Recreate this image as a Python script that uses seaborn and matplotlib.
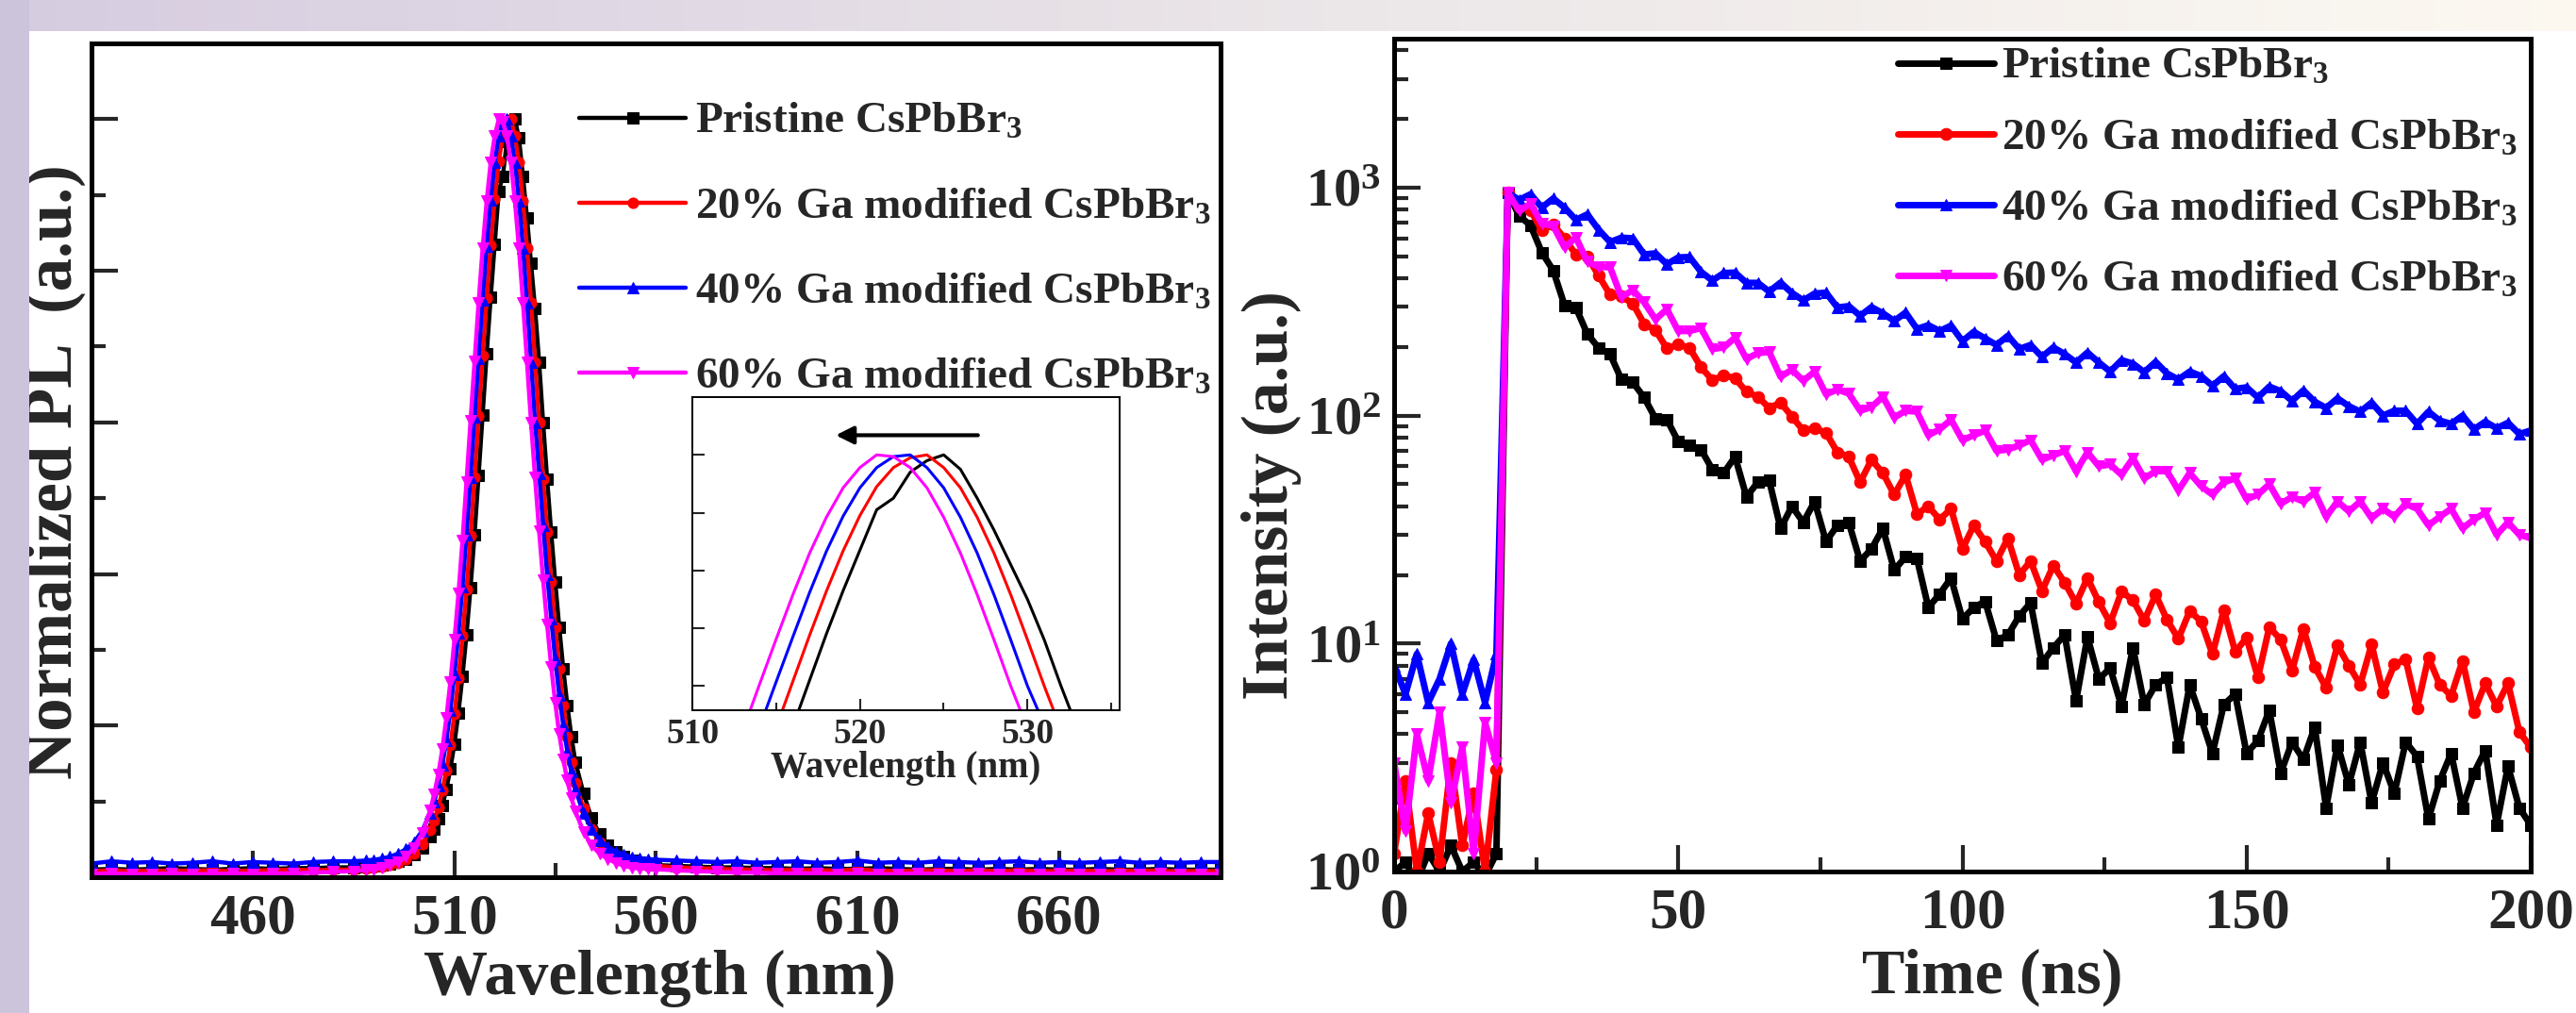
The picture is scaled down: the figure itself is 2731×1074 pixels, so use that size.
import numpy as np
import matplotlib
matplotlib.use('Agg')
import matplotlib.pyplot as plt
from matplotlib.patches import Rectangle
from matplotlib.ticker import FixedLocator, FixedFormatter, LogLocator, NullFormatter
import seaborn as sns

# ---------------- data: normalized PL spectra ----------------
wavelength = (list(range(420, 490, 5)) + list(range(488, 505, 2)) + list(range(505, 541))
              + list(range(542, 561, 2)) + list(range(565, 701, 5)))

pl_pristine = [0.010, 0.011, 0.010, 0.011, 0.012, 0.011, 0.010, 0.011, 0.012, 0.011, 0.012, 0.012, 0.013, 0.013,
               0.014, 0.015, 0.016, 0.018, 0.021, 0.024, 0.030, 0.038, 0.053,
               0.064, 0.077, 0.094, 0.116, 0.143, 0.176, 0.217, 0.265, 0.320, 0.382, 0.452, 0.530, 0.610, 0.690,
               0.765, 0.835, 0.905, 0.925, 0.970, 0.990, 1.000, 0.975, 0.925, 0.870, 0.810, 0.750, 0.680, 0.600,
               0.525, 0.455, 0.390, 0.330, 0.275, 0.227, 0.186, 0.152,
               0.111, 0.078, 0.057, 0.042, 0.033, 0.027, 0.023, 0.020, 0.018, 0.016,
               0.015, 0.014, 0.013, 0.013, 0.012, 0.012, 0.011, 0.012, 0.011, 0.011, 0.012, 0.011, 0.010, 0.011,
               0.011, 0.010, 0.011, 0.010, 0.011, 0.010, 0.010, 0.011, 0.010, 0.010, 0.011, 0.010, 0.010, 0.010]

pl_ga20 = [0.008, 0.009, 0.008, 0.009, 0.008, 0.009, 0.009, 0.008, 0.009, 0.009, 0.010, 0.009, 0.010, 0.010,
           0.011, 0.012, 0.014, 0.016, 0.019, 0.024, 0.031, 0.043, 0.062,
           0.075, 0.092, 0.114, 0.141, 0.174, 0.215, 0.263, 0.318, 0.380, 0.450, 0.528, 0.608, 0.688, 0.764,
           0.834, 0.895, 0.945, 0.978, 0.995, 1.000, 0.978, 0.943, 0.892, 0.830, 0.758, 0.680, 0.600, 0.525,
           0.455, 0.390, 0.330, 0.275, 0.227, 0.186, 0.152, 0.124,
           0.091, 0.064, 0.046, 0.035, 0.028, 0.023, 0.019, 0.0165, 0.0155, 0.015,
           0.013, 0.012, 0.011, 0.010, 0.010, 0.009, 0.010, 0.009, 0.009, 0.010, 0.009, 0.008, 0.009, 0.009,
           0.008, 0.009, 0.008, 0.009, 0.008, 0.008, 0.009, 0.008, 0.008, 0.009, 0.008, 0.008, 0.008, 0.008]

pl_ga40 = [0.018, 0.021, 0.019, 0.020, 0.018, 0.019, 0.021, 0.018, 0.020, 0.019, 0.018, 0.020, 0.021, 0.021,
           0.022, 0.023, 0.0245, 0.027, 0.031, 0.037, 0.046, 0.061, 0.085,
           0.099, 0.121, 0.148, 0.180, 0.220, 0.268, 0.322, 0.383, 0.452, 0.528, 0.607, 0.685, 0.762, 0.833,
           0.894, 0.943, 0.978, 0.997, 1.000, 0.978, 0.943, 0.892, 0.830, 0.758, 0.680, 0.600, 0.533, 0.464,
           0.400, 0.341, 0.287, 0.240, 0.200, 0.166, 0.139, 0.116,
           0.084, 0.064, 0.049, 0.040, 0.034, 0.030, 0.0265, 0.025, 0.024, 0.023,
           0.022, 0.021, 0.020, 0.021, 0.019, 0.020, 0.021, 0.019, 0.020, 0.022, 0.019, 0.020, 0.019, 0.021,
           0.020, 0.019, 0.020, 0.021, 0.019, 0.020, 0.019, 0.020, 0.021, 0.019, 0.020, 0.019, 0.020, 0.020]

pl_ga60 = [0.004, 0.005, 0.004, 0.004, 0.005, 0.004, 0.004, 0.005, 0.004, 0.005, 0.005, 0.006, 0.007, 0.008,
           0.0095, 0.0105, 0.0125, 0.016, 0.020, 0.027, 0.039, 0.058, 0.088,
           0.110, 0.136, 0.169, 0.210, 0.258, 0.313, 0.374, 0.444, 0.522, 0.602, 0.681, 0.758, 0.830, 0.892,
           0.943, 0.978, 1.000, 0.997, 0.978, 0.943, 0.892, 0.830, 0.758, 0.680, 0.600, 0.527, 0.457, 0.392,
           0.333, 0.278, 0.230, 0.189, 0.155, 0.128, 0.105, 0.087,
           0.060, 0.042, 0.031, 0.024, 0.019, 0.015, 0.0125, 0.0115, 0.011, 0.0105,
           0.009, 0.008, 0.007, 0.006, 0.006, 0.005, 0.005, 0.005, 0.004, 0.005, 0.004, 0.004, 0.005, 0.004,
           0.004, 0.005, 0.004, 0.004, 0.004, 0.005, 0.004, 0.004, 0.004, 0.004, 0.005, 0.004, 0.004, 0.004]

# ---------------- data: TRPL decays (counts, 2 ns steps) ----------------
time_ns = list(range(0, 201, 2))

tr_pristine = [1.0, 1.1, 0.9, 1.2, 1.0, 1.3, 1.0, 1.1, 0.95, 1.2,
               950, 752, 683, 519, 433, 304, 297, 228, 198, 186,
               144, 140, 120, 97, 96, 77, 74, 71, 58, 56,
               66, 44, 51, 52, 32, 40, 34, 42, 28, 33,
               34, 23, 26, 32, 21, 24, 23.6, 14.4, 16.5, 19.4,
               12.8, 14.4, 15.3, 10.3, 10.9, 13.2, 15.1, 8.2, 9.6, 10.9,
               5.6, 10.7, 7.0, 7.8, 5.3, 9.6, 5.4, 6.6, 7.1, 3.5,
               6.6, 4.7, 3.3, 5.4, 6.0, 3.3, 3.75, 5.1, 2.7, 3.7,
               3.1, 4.3, 1.9, 3.6, 2.4, 3.7, 2.0, 3.0, 2.2, 3.7,
               3.2, 1.7, 2.5, 3.3, 1.9, 2.7, 3.4, 1.6, 2.9, 1.9, 1.6]

tr_ga20 = [1.2, 2.5, 1.0, 1.8, 1.1, 3.0, 1.3, 2.2, 1.0, 2.8,
           950, 825, 798, 649, 691, 597, 508, 498, 411, 339,
           333, 310, 252, 237, 197, 205, 198, 163, 143, 150,
           146, 127, 121, 108, 114, 99, 86, 88, 84, 69,
           66, 51, 64, 56, 45, 55, 37, 40, 35, 39,
           26, 33, 28, 23, 29, 20, 23, 17, 22, 18.5,
           15, 19.4, 15.2, 12.3, 16.9, 15.5, 12.6, 16.4, 12.7, 10.5,
           13.9, 12.5, 9.0, 14.0, 9.2, 10.6, 7.1, 11.8, 10.4, 7.6,
           11.6, 7.9, 6.4, 9.8, 8.0, 6.6, 9.9, 6.1, 8.1, 8.5,
           5.2, 8.7, 6.6, 5.9, 8.4, 5.0, 6.7, 5.3, 6.7, 4.1, 3.5]

tr_ga40 = [8, 6, 9, 5.5, 7, 10, 6, 8.5, 5.5, 9,
           950, 883, 935, 818, 896, 816, 722, 763, 653, 577,
           603, 599, 509, 515, 461, 494, 496, 427, 391, 422,
           424, 382, 382, 350, 383, 345, 320, 343, 346, 298,
           302, 274, 299, 281, 260, 283, 240, 249, 235, 248,
           212, 233, 218, 204, 224, 196, 204, 181, 199, 186,
           171, 189, 171, 156, 175, 169, 155, 172, 153, 144,
           156, 149, 135, 149, 131, 133, 120, 134, 128, 116,
           129, 115, 108, 119, 110, 104, 114, 100, 105, 105,
           92, 104, 95, 92, 100, 87, 94, 88, 93, 83, 86]

tr_ga60 = [3, 1.5, 4, 2.5, 5, 2, 3.5, 1.2, 4.5, 3,
           950, 792, 849, 694, 679, 546, 605, 473, 449, 447,
           331, 355, 314, 264, 293, 235, 235, 242, 196, 199,
           220, 177, 188, 190, 148, 159, 142, 156, 124, 130,
           125, 105, 109, 121, 98, 105, 104, 82, 87, 96,
           78, 82, 86, 70, 71, 74, 78, 64, 67, 70,
           57, 69, 60, 61, 55, 65, 53, 57, 57, 47,
           56, 49, 45, 51, 53, 43, 45, 50, 41, 44,
           42, 46, 36, 42, 38, 42, 35.5, 39, 36, 41,
           39, 33, 36, 39, 32, 35, 37.5, 30, 34, 30, 29]

labels = ['Pristine CsPbBr$_3$', '20% Ga modified CsPbBr$_3$',
          '40% Ga modified CsPbBr$_3$', '60% Ga modified CsPbBr$_3$']
colors = ['#000000', '#ff0000', '#0000ff', '#ff00ff']
markers = ['s', 'o', '^', 'v']
pl_series = [pl_pristine, pl_ga20, pl_ga40, pl_ga60]
tr_series = [tr_pristine, tr_ga20, tr_ga40, tr_ga60]

# ---------------- style ----------------
sns.set_style('white')
plt.rcParams['font.family'] = ['Liberation Serif', 'DejaVu Serif']
plt.rcParams['font.weight'] = 'bold'
plt.rcParams['axes.labelweight'] = 'bold'
plt.rcParams['mathtext.fontset'] = 'custom'
plt.rcParams['mathtext.rm'] = 'Liberation Serif:bold'
plt.rcParams['mathtext.bf'] = 'Liberation Serif:bold'
plt.rcParams['mathtext.it'] = 'Liberation Serif:bold'
plt.rcParams['axes.edgecolor'] = 'black'

W, H = 2731, 1074
fig = plt.figure(figsize=(W / 100, H / 100), dpi=100, facecolor='white')

# background strips of the slide
top = fig.add_axes([0, 1 - 33 / H, 1, 33 / H])
stops = np.array([[0.84, 0.80, 0.88], [0.92, 0.90, 0.91], [0.99, 0.975, 0.945]])
g = np.linspace(0, 1, 512)
grad = np.stack([np.interp(g, [0, 0.5, 1], stops[:, k]) for k in range(3)], axis=-1)
top.imshow(grad[None, :, :], aspect='auto', extent=[0, 1, 0, 1])
top.axis('off')
fig.add_artist(Rectangle((0, 0), 31 / W, 1, transform=fig.transFigure,
                         facecolor=(0.80, 0.77, 0.86), edgecolor='none'))


def style_axes(ax, lw=3.6):
    for s in ax.spines.values():
        s.set_linewidth(lw)
        s.set_color('black')
        s.set_visible(True)


# ---------------- left panel: PL ----------------
ax1 = fig.add_axes([97 / W, 1 - 930 / H, 1197 / W, 884 / H])
for y, c, m, lab in zip(pl_series, colors, markers, labels):
    sns.lineplot(x=wavelength, y=y, ax=ax1, color=c, marker=m, markersize=8,
                 markeredgecolor=c, linewidth=3.2, label=lab, estimator=None, sort=False)
ax1.set_xlim(420, 700)
ax1.set_ylim(0, 1.1)
ax1.xaxis.set_major_locator(FixedLocator([460, 510, 560, 610, 660]))
ax1.xaxis.set_minor_locator(FixedLocator([435, 485, 535, 585, 635, 685]))
ax1.yaxis.set_major_locator(FixedLocator([0.2, 0.4, 0.6, 0.8, 1.0]))
ax1.yaxis.set_minor_locator(FixedLocator([0.1, 0.3, 0.5, 0.7, 0.9]))
ax1.tick_params(which='both', direction='in', left=True, bottom=True, top=False, right=False,
                labelleft=False, labelsize=44, pad=12)
ax1.tick_params(which='major', length=20, width=3)
ax1.tick_params(which='minor', length=11, width=3)
style_axes(ax1)
ax1.set_xlabel('Wavelength (nm)', fontsize=49)
ax1.set_ylabel('Normalized PL  (a.u.)', fontsize=51)
ax1.xaxis.set_label_coords(0.503, -0.086)
ax1.yaxis.set_label_coords(-0.005, 0.486)
h1, l1 = ax1.get_legend_handles_labels()
ax1.legend(h1, l1, loc='upper left', bbox_to_anchor=(614 / W, 1 - 108 / H), bbox_transform=fig.transFigure,
           frameon=False, prop=dict(size=34, weight='bold'), handlelength=2.4, handletextpad=0.2,
           labelspacing=1.0, borderpad=0, borderaxespad=0)

# inset: zoom of the peak
axi = fig.add_axes([734 / W, 1 - 753 / H, 453 / W, 332 / H])
for y, c in zip(pl_series, colors):
    sns.lineplot(x=wavelength, y=y, ax=axi, color=c, linewidth=2.2, estimator=None, sort=False)
axi.set_xlim(510, 535.5)
axi.set_ylim(0.558, 1.1)
axi.xaxis.set_major_locator(FixedLocator([510, 520, 530]))
axi.xaxis.set_minor_locator(FixedLocator([515, 525, 535]))
axi.yaxis.set_major_locator(FixedLocator([0.6, 0.7, 0.8, 0.9, 1.0]))
axi.tick_params(which='both', direction='in', left=True, bottom=True, top=False, right=False,
                labelleft=False, labelsize=27, pad=6, width=1.5)
axi.tick_params(which='major', length=9)
axi.tick_params(which='minor', length=6)
style_axes(axi, lw=1.4)
axi.set_xlabel('Wavelength (nm)', fontsize=28, labelpad=0)
axi.annotate('', xy=(518.4, 1.034), xytext=(527.2, 1.034),
             arrowprops=dict(arrowstyle='-|>', color='black', lw=3, mutation_scale=28))

# ---------------- right panel: TRPL ----------------
ax2 = fig.add_axes([1478 / W, 1 - 924 / H, 1205 / W, 883 / H])
for y, c, m, lab in zip(tr_series, colors, markers, labels):
    sns.lineplot(x=time_ns, y=y, ax=ax2, color=c, marker=m, markersize=9,
                 markeredgecolor=c, linewidth=5, label=lab, estimator=None, sort=False)
ax2.set_yscale('log')
ax2.set_xlim(0, 200)
ax2.set_ylim(1, 4500)
ax2.xaxis.set_major_locator(FixedLocator([0, 50, 100, 150, 200]))
ax2.xaxis.set_minor_locator(FixedLocator([25, 75, 125, 175]))
ax2.yaxis.set_major_locator(FixedLocator([1, 10, 100, 1000]))
ax2.yaxis.set_major_formatter(FixedFormatter([r'$\mathrm{10^{0}}$', r'$\mathrm{10^{1}}$',
                                              r'$\mathrm{10^{2}}$', r'$\mathrm{10^{3}}$']))
ax2.yaxis.set_minor_locator(LogLocator(base=10, subs=np.arange(2, 10), numticks=20))
ax2.yaxis.set_minor_formatter(NullFormatter())
ax2.tick_params(which='both', direction='in', left=True, bottom=True, top=False, right=False)
ax2.tick_params(axis='x', labelsize=44, pad=12)
ax2.tick_params(axis='y', labelsize=42, pad=10)
ax2.tick_params(which='major', length=20, width=3)
ax2.tick_params(which='minor', length=11, width=3)
style_axes(ax2)
ax2.set_xlabel('Time (ns)', fontsize=49)
ax2.set_ylabel('Intensity (a.u.)', fontsize=50)
ax2.xaxis.set_label_coords(0.526, -0.092)
ax2.yaxis.set_label_coords(-0.081, 0.452)
h2, l2 = ax2.get_legend_handles_labels()
ax2.legend(h2, l2, loc='upper left', bbox_to_anchor=(2012 / W, 1 - 50 / H), bbox_transform=fig.transFigure,
           frameon=False, prop=dict(size=34, weight='bold'), handlelength=2.15, handletextpad=0.17,
           labelspacing=0.68, borderpad=0, borderaxespad=0)

fig.savefig('out.png', dpi=100, facecolor=fig.get_facecolor())
